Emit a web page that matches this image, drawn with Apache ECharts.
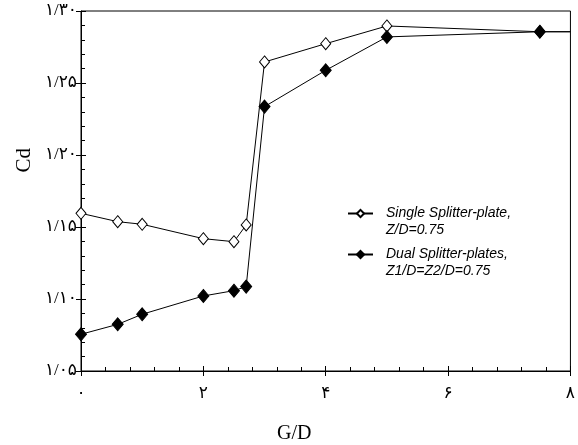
<!DOCTYPE html>
<html><head><meta charset="utf-8">
<script src="https://cdn.jsdelivr.net/npm/echarts@6/dist/echarts.min.js"></script>
<style>html,body{margin:0;padding:0;background:#fff}#c{width:578px;height:445px}</style>
</head><body><div id="c"></div>
<script>
const gd = [0, 0.6, 1.0, 2.0, 2.5, 2.7, 3.0, 4.0, 5.0, 7.5, 8];
const single = [1.1595, 1.1537, 1.1519, 1.1419, 1.1398, 1.1514, 1.2646, 1.2773, 1.2896, 1.2856, 1.2856];
const dual = [1.0755, 1.0824, 1.0894, 1.1021, 1.1058, 1.1086, 1.2336, 1.2588, 1.2820, 1.2856, 1.2856];
const seriesNames = ['Single Splitter-plate,\nZ/D=0.75', 'Dual Splitter-plates,\nZ1/D=Z2/D=0.75'];
const xTicks = { min: 0, max: 8, interval: 2 };
const yTicks = { min: 1.05, max: 1.30, interval: 0.05 };

const fa = '۰۱۲۳۴۵۶۷۸۹';
const toFa = s => String(s).replace(/[0-9]/g, d => fa[+d]);
const numFont = "'Liberation Serif','DejaVu Sans',serif";

function pts(ys) {
  return gd.map((x, i) => i === gd.length - 1 ? { value: [x, ys[i]], symbol: 'none' } : [x, ys[i]]);
}

const chart = echarts.init(document.getElementById('c'));
const legendText = {
  fontFamily: "'Liberation Sans',Arial,sans-serif", fontStyle: 'italic', fontSize: 14,
  color: '#000', lineHeight: 17, padding: [0, 0, 0, 8]
};
chart.setOption({
  animation: false,
  grid: { left: 81, right: 5, top: 11, bottom: 74, show: true, borderColor: '#000', borderWidth: 1 },
  xAxis: [
    { type: 'value', min: xTicks.min, max: xTicks.max, interval: xTicks.interval,
      axisLine: { lineStyle: { color: '#000', width: 1 } },
      axisTick: { show: true, inside: false, length: 5, lineStyle: { color: '#000' } },
      splitLine: { show: false },
      axisLabel: { margin: 14, color: '#000', fontSize: 17, fontFamily: numFont, formatter: v => toFa(v) } },
    { type: 'value', min: xTicks.min, max: xTicks.max, interval: xTicks.interval, position: 'bottom',
      axisLine: { show: false }, axisLabel: { show: false }, splitLine: { show: false },
      axisTick: { show: true, inside: true, length: 5, lineStyle: { color: '#000' } },
      minorTick: { show: true, splitNumber: 5, length: 4, lineStyle: { color: '#000' } } }
  ],
  yAxis: [
    { type: 'value', min: yTicks.min, max: yTicks.max, interval: yTicks.interval,
      axisLine: { show: true, lineStyle: { color: '#000', width: 1 } },
      axisTick: { show: true, inside: false, length: 5, lineStyle: { color: '#000' } },
      splitLine: { show: false },
      axisLabel: { margin: 4, color: '#000', fontSize: 17, fontFamily: numFont,
        formatter: v => toFa(v.toFixed(2).replace('.', '/')) } },
    { type: 'value', min: yTicks.min, max: yTicks.max, interval: yTicks.interval, position: 'left',
      axisLine: { show: false }, axisLabel: { show: false }, splitLine: { show: false },
      axisTick: { show: true, inside: true, length: 5, lineStyle: { color: '#000' } },
      minorTick: { show: true, splitNumber: 5, length: 4, lineStyle: { color: '#000' } } }
  ],
  legend: [
    { data: [seriesNames[0]], orient: 'vertical', left: 347, top: 188, padding: 0,
      itemWidth: 25, itemHeight: 9, textStyle: legendText, formatter: n => '\n' + n },
    { data: [seriesNames[1]], orient: 'vertical', left: 347, top: 229, padding: 0,
      itemWidth: 25, itemHeight: 9, textStyle: legendText, formatter: n => '\n' + n }
  ],
  series: [
    { name: seriesNames[0], type: 'line', data: pts(single), symbol: 'diamond', symbolSize: [10, 12],
      lineStyle: { color: '#000', width: 1 },
      itemStyle: { color: '#fff', borderColor: '#000', borderWidth: 1 } },
    { name: seriesNames[1], type: 'line', data: pts(dual), symbol: 'diamond', symbolSize: [11, 13],
      lineStyle: { color: '#000', width: 1 },
      itemStyle: { color: '#000', borderColor: '#000', borderWidth: 1 } }
  ],
  graphic: [
    { type: 'text', left: 14, top: 148, rotation: Math.PI / 2,
      style: { text: 'Cd', fontFamily: "'Liberation Serif',serif", fontSize: 21, fill: '#000' } },
    { type: 'text', left: 277, top: 424,
      style: { text: 'G/D', fontFamily: "'Liberation Serif',serif", fontSize: 20, fill: '#000' } }
  ]
});
</script></body></html>
